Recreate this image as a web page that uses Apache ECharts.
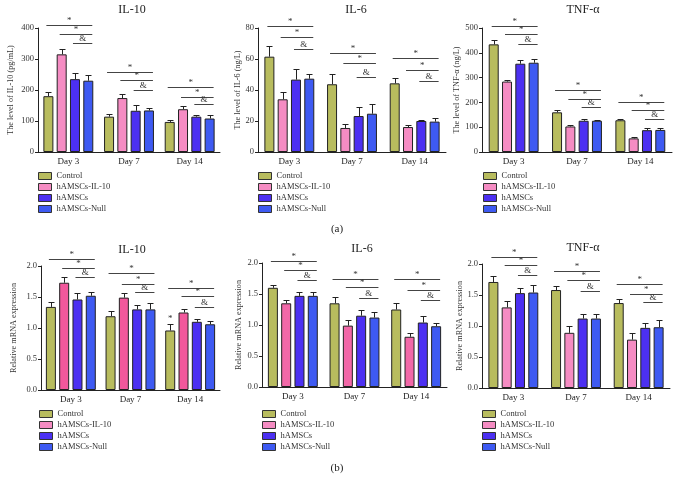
<!DOCTYPE html>
<html><head><meta charset="utf-8">
<script src="https://cdn.jsdelivr.net/npm/echarts@6/dist/echarts.min.js"></script>
<style>html,body{margin:0;padding:0;background:#fff}#c{width:678px;height:490px}</style>
</head><body><div id="c"></div>
<script>
const days = ['Day 3', 'Day 7', 'Day 14'];
const groups = ['Control', 'hAMSCs-IL-10', 'hAMSCs', 'hAMSCs-Null'];
const sigLabels = ['*', '*', '&'];
const sigStart = [0, 1, 2];

// values are [group][day]; sig levels are [day][line]
const aIL10Mean = [[180, 114, 97], [315, 174, 138], [235, 133, 114], [230, 134, 108]];
const aIL10Sd = [[15, 8, 6], [16, 14, 10], [20, 20, 6], [17, 8, 11]];
const aIL10Sig = [[411, 381, 352], [259, 231, 199], [209, 178, 154]];

const aIL6Mean = [[61.5, 43.7, 44.3], [34, 15.5, 16.1], [46.7, 23.2, 20], [47.3, 24.7, 19.6]];
const aIL6Sd = [[7, 6.6, 3.7], [5, 2.8, 1.3], [7, 5.6, 0.9], [3.2, 6.5, 2.6]];
const aIL6Sig = [[81.5, 74, 66.2], [64.1, 57.2, 48.4], [60.9, 53.1, 45.8]];

const aTNFMean = [[434, 160, 128], [284, 103, 55], [356, 126, 88], [360, 126, 89]];
const aTNFSd = [[18, 11, 5], [8, 7, 6], [16, 7, 7], [16, 4, 8]];
const aTNFSig = [[509, 475, 437], [249, 214, 181], [202, 168, 134]];

const bIL10Mean = [[1.34, 1.19, 0.96], [1.73, 1.49, 1.25], [1.46, 1.30, 1.10], [1.52, 1.30, 1.06]];
const bIL10Sd = [[0.08, 0.08, 0.10], [0.09, 0.07, 0.06], [0.11, 0.07, 0.05], [0.06, 0.10, 0.06]];
const bIL10Sig = [[2.12, 1.97, 1.82], [1.88, 1.71, 1.58], [1.64, 1.51, 1.34]];
const bIL10Extra = [[2, 0, 1.08]];

const bIL6Mean = [[1.60, 1.35, 1.25], [1.35, 0.99, 0.81], [1.47, 1.15, 1.04], [1.47, 1.12, 0.98]];
const bIL6Sd = [[0.05, 0.10, 0.10], [0.06, 0.09, 0.06], [0.07, 0.10, 0.10], [0.06, 0.09, 0.05]];
const bIL6Sig = [[2.04, 1.88, 1.73], [1.75, 1.61, 1.44], [1.75, 1.56, 1.41]];

const bTNFMean = [[1.71, 1.58, 1.37], [1.30, 0.89, 0.78], [1.53, 1.12, 0.97], [1.54, 1.12, 0.98]];
const bTNFSd = [[0.09, 0.06, 0.06], [0.10, 0.11, 0.11], [0.08, 0.08, 0.08], [0.12, 0.07, 0.11]];
const bTNFSig = [[2.12, 1.98, 1.82], [1.89, 1.74, 1.56], [1.68, 1.52, 1.38]];

const FONT = 'Liberation Serif';
const BW = 10, GAP = 0.33;
function off(g) { return (g - 1.5) * (BW + BW * GAP); }

const panels = [
  {title: 'IL-10', yName: 'The level of IL-10 (pg/mL)', max: 400, interval: 100, dec: 0, mean: aIL10Mean, sd: aIL10Sd, sig: aIL10Sig, extra: [],
   grid: {left: 38, top: 28, width: 182, height: 124}, nameGap: 23, pink: '#f58cc3', legend: {left: 38, top: 171}, tx: 132, ty: 10},
  {title: 'IL-6', yName: 'The level of IL-6 (ng/L)', max: 80, interval: 20, dec: 0, mean: aIL6Mean, sd: aIL6Sd, sig: aIL6Sig, extra: [],
   grid: {left: 258, top: 28, width: 188, height: 124}, nameGap: 16, pink: '#f58cc3', legend: {left: 258, top: 171}, tx: 356, ty: 10},
  {title: 'TNF-α', yName: 'The level of TNF-α (ng/L)', max: 500, interval: 100, dec: 0, mean: aTNFMean, sd: aTNFSd, sig: aTNFSig, extra: [],
   grid: {left: 482, top: 28, width: 190, height: 124}, nameGap: 19, pink: '#f58cc3', legend: {left: 483, top: 171}, tx: 583, ty: 10},
  {title: 'IL-10', yName: 'Relative mRNA expression', max: 2, interval: 0.5, dec: 1, mean: bIL10Mean, sd: bIL10Sd, sig: bIL10Sig, extra: bIL10Extra,
   grid: {left: 41, top: 266, width: 179, height: 124}, nameGap: 23, pink: '#f2589c', legend: {left: 39, top: 409}, tx: 132, ty: 250},
  {title: 'IL-6', yName: 'Relative mRNA expression', max: 2, interval: 0.5, dec: 1, mean: bIL6Mean, sd: bIL6Sd, sig: bIL6Sig, extra: [],
   grid: {left: 262, top: 263, width: 185, height: 124}, nameGap: 19, pink: '#f268a8', legend: {left: 262, top: 409}, tx: 362, ty: 249},
  {title: 'TNF-α', yName: 'Relative mRNA expression', max: 2, interval: 0.5, dec: 1, mean: bTNFMean, sd: bTNFSd, sig: bTNFSig, extra: [],
   grid: {left: 482, top: 264, width: 188, height: 124}, nameGap: 17, pink: '#f58cc3', legend: {left: 482, top: 409}, tx: 583, ty: 248}
];

const baseColors = ['#b8bc5e', null, '#4c30f2', '#3e5af2'];
const legendColors = ['#b8bc5e', '#f58cc3', '#4c30f2', '#3e5af2'];

const grids = [], xAxes = [], yAxes = [], series = [], legends = [], graphics = [];

panels.forEach((p, pi) => {
  grids.push(p.grid);
  xAxes.push({
    type: 'category', gridIndex: pi, data: days,
    axisLine: {lineStyle: {color: '#222', width: 1}},
    axisTick: {alignWithLabel: true, length: 3, lineStyle: {color: '#222'}},
    axisLabel: {fontFamily: FONT, fontSize: 9, color: '#222', margin: 5}
  });
  yAxes.push({
    type: 'value', gridIndex: pi, min: 0, max: p.max, interval: p.interval,
    name: p.yName, nameLocation: 'middle', nameGap: p.nameGap, nameRotate: 90,
    nameTextStyle: {fontFamily: FONT, fontSize: 8.2, color: '#333'},
    axisLine: {show: true, lineStyle: {color: '#222', width: 1}},
    axisTick: {show: true, length: 3, lineStyle: {color: '#222'}},
    splitLine: {show: false},
    axisLabel: {fontFamily: FONT, fontSize: 8.5, color: '#333', margin: 4,
      formatter: v => v.toFixed(p.dec)}
  });
  groups.forEach((g, gi) => {
    series.push({
      type: 'bar', name: g, xAxisIndex: pi, yAxisIndex: pi,
      data: p.mean[gi], barWidth: BW, barGap: (GAP * 100) + '%',
      itemStyle: {color: gi === 1 ? p.pink : baseColors[gi], borderColor: '#222', borderWidth: 1},
      silent: true, animation: false
    });
  });
  const errData = [];
  p.mean.forEach((row, gi) => row.forEach((m, d) => errData.push([d, gi, m, p.sd[gi][d]])));
  series.push({
    type: 'custom', name: 'err' + pi, xAxisIndex: pi, yAxisIndex: pi, data: errData,
    encode: {x: 0, y: 2}, clip: false, silent: true, animation: false, z: 5,
    renderItem: (params, api) => {
      const d = api.value(0), g = api.value(1), m = api.value(2), s = api.value(3);
      const b = api.coord([d, m]), t = api.coord([d, m + s]);
      const x = Math.round(b[0] + off(g)) + 0.5;
      const ty = Math.round(t[1]) + 0.5;
      return {type: 'group', children: [
        {type: 'line', shape: {x1: x, y1: b[1], x2: x, y2: ty}, style: {stroke: '#222', lineWidth: 1}},
        {type: 'line', shape: {x1: x - 3, y1: ty, x2: x + 3, y2: ty}, style: {stroke: '#222', lineWidth: 1}}
      ]};
    }
  });
  const sigData = [];
  p.sig.forEach((row, d) => row.forEach((y, k) => sigData.push([d, k, y])));
  series.push({
    type: 'custom', name: 'sig' + pi, xAxisIndex: pi, yAxisIndex: pi, data: sigData,
    encode: {x: 0, y: 2}, clip: false, silent: true, animation: false, z: 6,
    renderItem: (params, api) => {
      const d = api.value(0), k = api.value(1), y = api.value(2);
      const c = api.coord([d, y]);
      const x1 = c[0] + off(sigStart[k]) - 2, x2 = c[0] + off(3) + 4;
      const yy = Math.round(c[1]) + 0.5;
      return {type: 'group', children: [
        {type: 'line', shape: {x1: x1, y1: yy, x2: x2, y2: yy}, style: {stroke: '#444', lineWidth: 1}},
        {type: 'text', style: {text: sigLabels[k], x: (x1 + x2) / 2, y: yy - 0.5, align: 'center', verticalAlign: 'bottom',
          fontFamily: FONT, fontSize: 9, fill: '#333'}}
      ]};
    }
  });
  if (p.extra.length) {
    series.push({
      type: 'custom', name: 'extra' + pi, xAxisIndex: pi, yAxisIndex: pi, data: p.extra,
      encode: {x: 0, y: 2}, clip: false, silent: true, animation: false, z: 6,
      renderItem: (params, api) => {
        const c = api.coord([api.value(0), api.value(2)]);
        return {type: 'text', style: {text: '*', x: c[0] + off(api.value(1)), y: c[1], align: 'center', verticalAlign: 'bottom',
          fontFamily: FONT, fontSize: 9, fill: '#333'}};
      }
    });
  }
  legends.push({
    left: p.legend.left, top: p.legend.top, orient: 'vertical', padding: 0,
    itemWidth: 13, itemHeight: 7, itemGap: 1, icon: 'rect', selectedMode: false,
    textStyle: {fontFamily: FONT, fontSize: 8.5, color: '#333', lineHeight: 10},
    data: groups.map((g, gi) => ({name: g, itemStyle: {color: legendColors[gi], borderColor: '#333', borderWidth: 1}}))
  });
  graphics.push({type: 'text', x: p.tx, y: p.ty, style: {text: p.title, align: 'center', verticalAlign: 'middle',
    fontFamily: FONT, fontSize: 12, fill: '#222'}});
});

graphics.push({type: 'text', x: 337, y: 229, style: {text: '(a)', align: 'center', verticalAlign: 'middle', fontFamily: FONT, fontSize: 11, fill: '#222'}});
graphics.push({type: 'text', x: 337, y: 468, style: {text: '(b)', align: 'center', verticalAlign: 'middle', fontFamily: FONT, fontSize: 11, fill: '#222'}});

const chart = echarts.init(document.getElementById('c'), null, {renderer: 'canvas'});
chart.setOption({
  animation: false,
  backgroundColor: '#fff',
  textStyle: {fontFamily: FONT},
  grid: grids, xAxis: xAxes, yAxis: yAxes, series: series, legend: legends, graphic: graphics
});
</script></body></html>
